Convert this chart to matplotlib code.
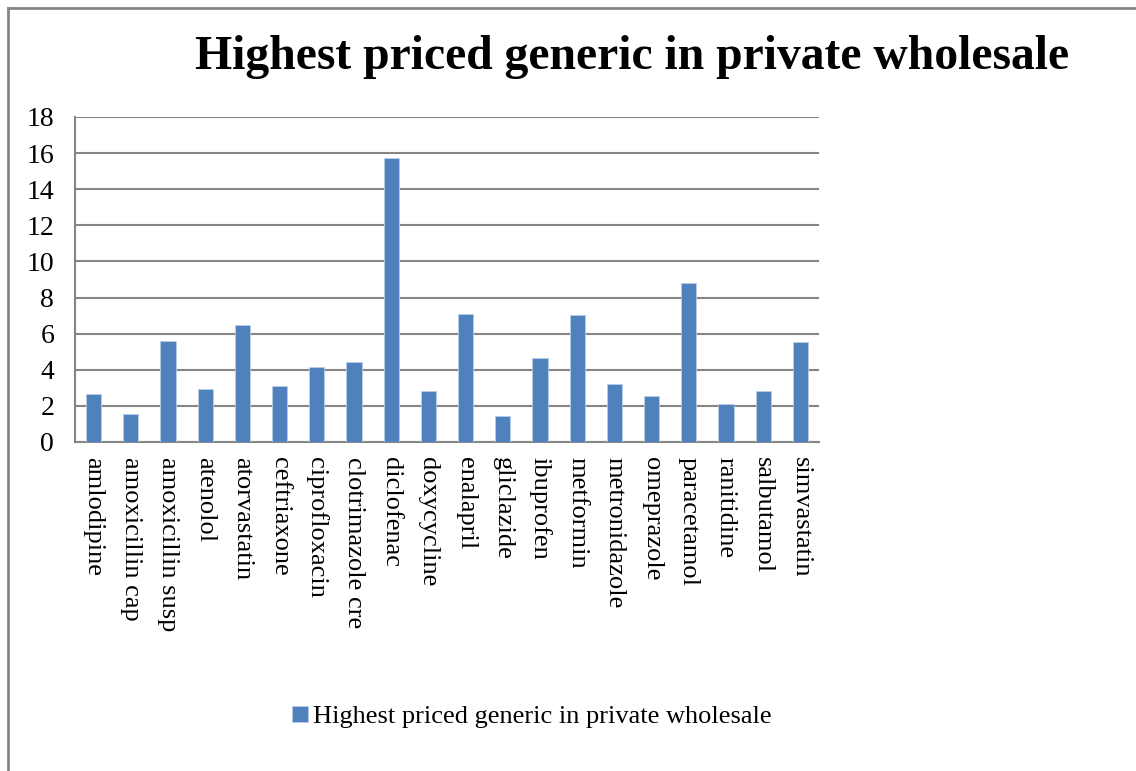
import numpy as np
import matplotlib.pyplot as plt
from matplotlib.lines import Line2D

# generic drug names and their highest private wholesale price
drugs = ["amlodipine", "amoxicillin cap", "amoxicillin susp", "atenolol",
         "atorvastatin", "ceftriaxone", "ciprofloxacin", "clotrimazole cre",
         "diclofenac", "doxycycline", "enalapril", "gliclazide", "ibuprofen",
         "metformin", "metronidazole", "omeprazole", "paracetamol",
         "ranitidine", "salbutamol", "simvastatin"]
prices = [2.68, 1.57, 5.61, 2.95, 6.50, 3.12, 4.17, 4.43, 15.71, 2.84,
          7.09, 1.46, 4.65, 7.03, 3.21, 2.53, 8.81, 2.10, 2.84, 5.56]
yticks = [0, 2, 4, 6, 8, 10, 12, 14, 16, 18]

series_name = "Highest priced generic in private wholesale"
bar_color = "#4F81BD"
grid_color = "#868686"

plt.rcParams['font.family'] = ['Liberation Serif', 'DejaVu Serif']

fig = plt.figure(figsize=(11.36, 7.71), dpi=100)
ax = fig.add_axes([75/1136, 1-442/771, 744/1136, 325/771])

x = np.arange(len(drugs))
ax.bar(x, prices, width=0.41, color=bar_color, edgecolor="#B9CDE5",
       linewidth=0.6, zorder=3, label=series_name)

ax.set_xlim(-0.5, len(drugs) - 0.5)
ax.set_ylim(0, 18)
ax.set_yticks(yticks)
ax.set_yticklabels([str(v) for v in yticks], fontsize=20)
ax.set_xticks(x)
ax.set_xticklabels(drugs, rotation=-90, fontsize=19, ha="center", va="top")
ax.tick_params(axis="both", length=0)
ax.tick_params(axis="y", pad=15)
ax.tick_params(axis="x", pad=11)

ax.yaxis.grid(True, color=grid_color, linewidth=1.5, zorder=0)
ax.set_axisbelow(True)
for side in ["top", "right"]:
    ax.spines[side].set_visible(False)
for side in ["left", "bottom"]:
    ax.spines[side].set_color(grid_color)
    ax.spines[side].set_linewidth(1.5)

fig.text(632/1136, 1-57/771, series_name, fontsize=34.3, fontweight="bold",
         ha="center", va="center")

fig.legend(loc="center", bbox_to_anchor=(532/1136, 1-717/771), fontsize=19,
           frameon=False, handlelength=0.6, handleheight=0.6,
           handletextpad=0.2)

# chart area border (left and top edges)
fig.add_artist(Line2D([8/1136, 8/1136], [0, 1-8/771], color=grid_color,
                      linewidth=2, transform=fig.transFigure))
fig.add_artist(Line2D([8/1136, 1], [1-8/771, 1-8/771], color=grid_color,
                      linewidth=2, transform=fig.transFigure))

fig.savefig("out.png", dpi=100)
